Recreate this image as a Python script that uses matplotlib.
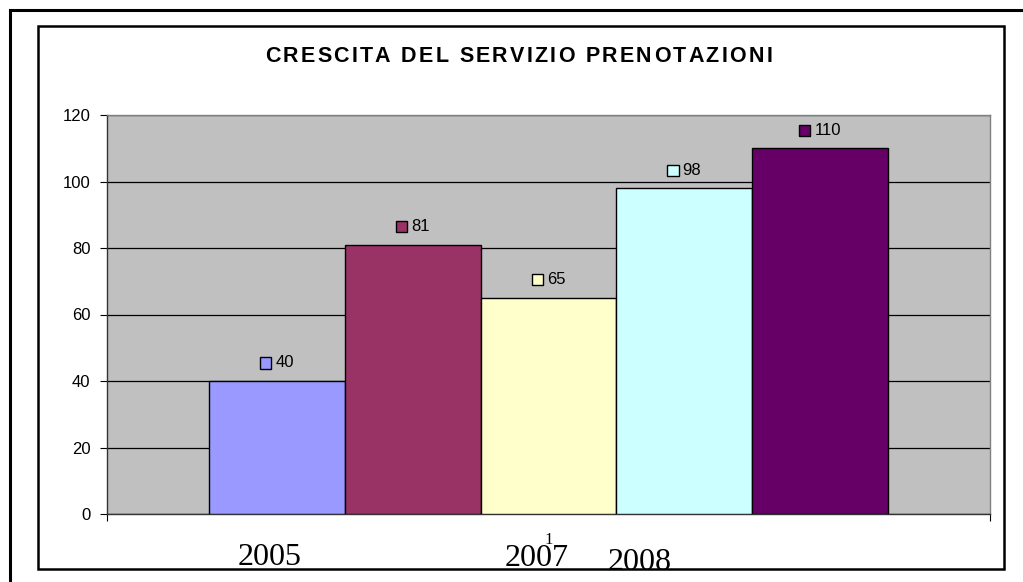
import matplotlib.pyplot as plt
from matplotlib.patches import Rectangle
from matplotlib.lines import Line2D
from matplotlib.offsetbox import AnnotationBbox, HPacker, TextArea, DrawingArea

# data
values = [40, 81, 65, 98, 110]
colors = ['#9999FF', '#993366', '#FFFFCC', '#CCFFFF', '#660066']
category_label = '1'
year_labels = ['2005', '2007', '2008']
title = 'CRESCITA DEL SERVIZIO PRENOTAZIONI'

W, H = 1023, 582
fig = plt.figure(figsize=(W / 100, H / 100), dpi=100)
fig.patch.set_facecolor('white')

def fx(px):
    return px / W

def fy(py):
    return 1 - py / H

# outer frame (only top/left visible) and inner chart frame
fig.add_artist(Line2D([fx(10), fx(10)], [fy(10), 0], color='black', lw=2.2))
fig.add_artist(Line2D([fx(10), 1], [fy(10), fy(10)], color='black', lw=2.2))
fig.add_artist(Rectangle((fx(38), fy(569)), fx(1004) - fx(38), fy(26) - fy(569),
                         fill=False, edgecolor='black', lw=1.8))

ax = fig.add_axes([fx(107), fy(514), fx(990) - fx(107), fy(115) - fy(514)])
ax.set_facecolor('#C0C0C0')

n = len(values)
w = 1 / (n + 1.5)
xs = [(i - (n - 1) / 2) * w for i in range(n)]
ax.bar(xs, values, width=w, color=colors, edgecolor='black', linewidth=1, zorder=3)

ax.set_xlim(-0.5, 0.5)
ax.set_ylim(0, 120)
ax.set_yticks(range(0, 121, 20))
ax.yaxis.grid(True, color='black', lw=0.9, zorder=1)
ax.tick_params(axis='y', direction='out', length=5, width=0.8, labelsize=12, pad=7)
for lab in ax.get_yticklabels():
    lab.set_fontfamily('Liberation Sans')

ax.set_xticks([-0.5, 0.5])
ax.set_xticklabels(['', ''])
ax.set_xticks([0], minor=True)
ax.set_xticklabels([category_label], minor=True, fontfamily='Liberation Serif', fontsize=12)
ax.tick_params(axis='x', which='major', direction='out', length=5, width=0.8)
ax.tick_params(axis='x', which='minor', length=0, pad=13)

for side in ['top', 'right']:
    ax.spines[side].set_color('#808080')
    ax.spines[side].set_linewidth(1)
for side in ['left', 'bottom']:
    ax.spines[side].set_color('#333333')
    ax.spines[side].set_linewidth(1)

# data labels: colour key square + value
for x, v, c in zip(xs, values, colors):
    da = DrawingArea(8, 8, 0, 0)
    da.add_artist(Rectangle((0, 0), 8, 8, facecolor=c, edgecolor='black', lw=1))
    ta = TextArea(str(v), textprops=dict(fontsize=12, fontfamily='Liberation Sans'))
    box = HPacker(children=[da, ta], align='center', pad=0, sep=3)
    ab = AnnotationBbox(box, (x, v), xybox=(0, 13), xycoords='data',
                        boxcoords='offset points', frameon=False,
                        box_alignment=(0.5, 0.5), zorder=5)
    ax.add_artist(ab)

# title with wide letter spacing, placed char by char
renderer = fig.canvas.get_renderer()
fsize = 15.5
tprops = dict(fontsize=fsize, fontweight='bold', fontfamily='Liberation Sans')
chars = []
for ch in title:
    t = fig.text(0, fy(57), ch, ha='left', va='center', **tprops)
    chars.append(t)
widths = []
for t in chars:
    if t.get_text() == ' ':
        widths.append(0.28 * fsize * 100 / 72)
    else:
        widths.append(t.get_window_extent(renderer).width)
target_w = 772 - 265
gap = (target_w - sum(widths)) / (len(chars) - 1)
xpos = 265
for t, wd in zip(chars, widths):
    t.set_x(fx(xpos))
    xpos += wd + gap

# year labels typed over the chart
year_pos = [(270, 565), (537, 566), (640, 570)]
for (px, py), t in zip(year_pos, year_labels):
    fig.text(fx(px), fy(py), t, ha='center', va='baseline', fontsize=23,
             fontfamily='Liberation Serif')

fig.savefig('out.png', dpi=100)
